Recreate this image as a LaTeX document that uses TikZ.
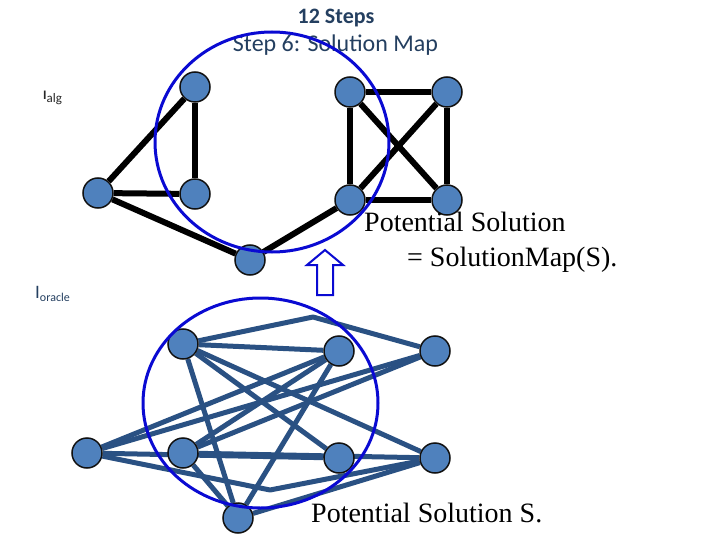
\documentclass[tikz,border=0pt]{standalone}
\usepackage{fontspec}
\setmainfont{Liberation Serif}
\newfontfamily\carl{Carlito}
\definecolor{nodefill}{HTML}{4F81BD}
\definecolor{nodeline}{HTML}{111111}
\definecolor{edgeblue}{HTML}{2A5183}
\definecolor{ringblue}{HTML}{0A0AD2}
\definecolor{titlecol}{HTML}{243F60}
\pgfdeclarelayer{background}
\pgfsetlayers{background,main}
\begin{document}
\begin{tikzpicture}[x=1pt,y=-1pt,
  vtx/.style={circle,fill=nodefill,draw=nodeline,line width=1.5pt,minimum size=30pt,inner sep=0pt},
  topedge/.style={line width=6pt,draw=black,line join=round},
  botedge/.style={line width=5pt,draw=edgeblue,line join=round},
  ring/.style={draw=ringblue,line width=3pt},
  lbl/.style={anchor=base west,inner sep=0pt,font=\fontsize{28}{30}\selectfont},
  ttl/.style={anchor=base,inner sep=0pt,text=titlecol}]
\useasboundingbox (0,0) rectangle (720,540);
% titles
\node[ttl] (t1) at (336,24) {\carl\bfseries\fontsize{22}{24}\selectfont 12 Steps};
\node[ttl] (t2) at (335.5,52) {\carl\fontsize{24}{26}\selectfont Step 6: Solution Map};
% labels
\node[anchor=base west,inner sep=0pt,text=black!85] (ialg) at (43,100) {\carl\fontsize{13}{13}\selectfont\bfseries I\raisebox{-3pt}{\mdseries alg}};
\node[anchor=base west,inner sep=0pt,text=titlecol] (iora) at (35,298) {\carl\fontsize{19}{19}\selectfont I\raisebox{-3pt}{\fontsize{12}{12}\selectfont oracle}};
% top graph
\node[vtx] (a1) at (195,87) {};
\node[vtx] (a2) at (98,193) {};
\node[vtx] (a3) at (195,194) {};
\node[vtx] (a4) at (250,260) {};
\node[vtx] (a5) at (350,92) {};
\node[vtx] (a6) at (447,92) {};
\node[vtx] (a7) at (350,200) {};
\node[vtx] (a8) at (447,200) {};
% bottom graph
\node[vtx] (A) at (183,344) {};
\node[vtx] (B) at (339,351) {};
\node[vtx] (C) at (435,351) {};
\node[vtx] (D) at (87,453) {};
\node[vtx] (E) at (183,453) {};
\node[vtx] (F) at (339,458) {};
\node[vtx] (G) at (435,458) {};
\node[vtx] (H) at (238,518) {};
\coordinate (bAC) at (313,317);
\coordinate (bDG) at (270,490);
\begin{pgfonlayer}{background}
\draw[topedge] (a1) -- (a3);
\draw[topedge] (a1) -- (a2);
\draw[topedge] (a2) -- (a3);
\draw[topedge] (a2) -- (a4);
\draw[topedge] (a4) -- (a7);
\draw[topedge] (a5) -- (a6);
\draw[topedge] (a5) -- (a7);
\draw[topedge] (a5) -- (a8);
\draw[topedge] (a6) -- (a7);
\draw[topedge] (a6) -- (a8);
\draw[topedge] (a7) -- (a8);
\draw[botedge] (A) -- (bAC) -- (C);
\draw[botedge] (A) -- (B);
\draw[botedge] (A) -- (F);
\draw[botedge] (A) -- (G);
\draw[botedge] (A) -- (H);
\draw[botedge] (B) -- (D);
\draw[botedge] (B) -- (E);
\draw[botedge] (B) -- (H);
\draw[botedge] (C) -- (D);
\draw[botedge] (C) -- (E);
\draw[botedge] (D) -- (F);
\draw[botedge] (D) -- (bDG) -- (G);
\draw[botedge] (E) -- (F);
\draw[botedge] (E) -- (G);
\draw[botedge] (E) -- (H);
\draw[botedge] (H) -- (G);
\end{pgfonlayer}
% rings
\draw[ring] (272,142) ellipse [x radius=117, y radius=110];
\draw[ring] (260.5,403) ellipse [x radius=117.5, y radius=105];
% hollow arrow
\draw[ringblue,line width=2pt,fill=white,line join=miter] (325,250) -- (343,265) -- (333,265) -- (333,295) -- (317,295) -- (317,265) -- (307,265) -- cycle;
% texts
\node[lbl] (ps1) at (364,232) {Potential Solution};
\node[lbl] (ps2) at (407,266) {= SolutionMap(S).};
\node[lbl] (ps3) at (311,522) {Potential Solution S.};
\end{tikzpicture}
\end{document}
